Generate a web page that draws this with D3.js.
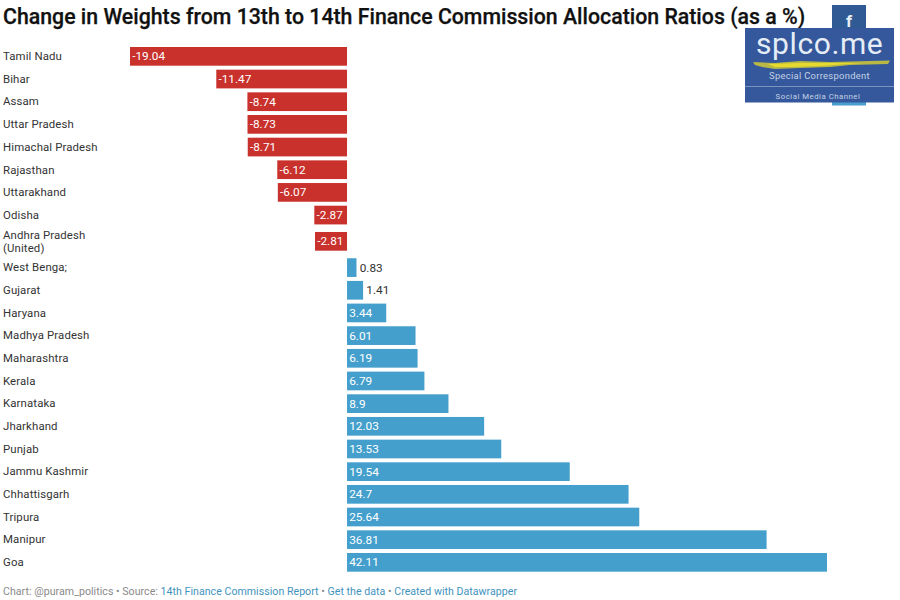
<!DOCTYPE html>
<html><head><meta charset="utf-8">
<script src="https://cdn.jsdelivr.net/npm/d3@7"></script>
<style>
html,body{margin:0;padding:0;background:#fff;overflow:hidden}
text{font-family:Roboto,sans-serif}
</style></head><body>
<svg id="c" width="900" height="600"></svg>
<script>
const categories=["Tamil Nadu","Bihar","Assam","Uttar Pradesh","Himachal Pradesh","Rajasthan","Uttarakhand","Odisha","Andhra Pradesh (United)","West Benga;","Gujarat","Haryana","Madhya Pradesh","Maharashtra","Kerala","Karnataka","Jharkhand","Punjab","Jammu Kashmir","Chhattisgarh","Tripura","Manipur","Goa"];
const values=[-19.04,-11.47,-8.74,-8.73,-8.71,-6.12,-6.07,-2.87,-2.81,0.83,1.41,3.44,6.01,6.19,6.79,8.9,12.03,13.53,19.54,24.7,25.64,36.81,42.11];
const labelLines={"Andhra Pradesh (United)":["Andhra Pradesh","(United)"]};
const svg=d3.select("#c");
const x=d3.scaleLinear().domain([-19.04,42.11]).range([130,827]);
// the wrapped two-line label makes its row taller than the others
const extra=7.2, tallRow=categories.findIndex(c=>labelLines[c]);
const band=d3.scaleBand().domain(categories).range([47,571.7-extra]).paddingInner(0.175).paddingOuter(0);
const y=c=>{const i=categories.indexOf(c);return band(c)+(i>tallRow?extra:i===tallRow?extra/2:0);};
const data=categories.map((c,i)=>({c,v:values[i]}));

svg.append("text").attr("x",3).attr("y",24).attr("font-size",21.3).attr("font-weight",500).attr("fill","#111")
  .attr("stroke","#111").attr("stroke-width",0.25)
  .text("Change in Weights from 13th to 14th Finance Commission Allocation Ratios (as a %)");

const rows=svg.selectAll("g.r").data(data).join("g").attr("class","r");
rows.append("rect").attr("x",d=>x(Math.min(0,d.v))).attr("y",d=>y(d.c))
  .attr("width",d=>Math.abs(x(d.v)-x(0))).attr("height",band.bandwidth())
  .attr("fill",d=>d.v<0?"#c8312c":"#459fcd");
rows.each(function(d){
  const g=d3.select(this), cy=y(d.c)+band.bandwidth()/2;
  const lines=labelLines[d.c]||[d.c];
  lines.forEach((t,i)=>g.append("text").attr("x",3).attr("y",cy+3.8+(i-(lines.length-1)/2)*13)
    .attr("font-size",11.4).attr("fill","#333").attr("letter-spacing",0.12).text(t));
  const w=Math.abs(x(d.v)-x(0));
  const inside=w>25;
  g.append("text").attr("x",inside?x(Math.min(0,d.v))+2.2:x(d.v)+3.2)
    .attr("y",cy+4).attr("font-size",11.8)
    .attr("fill",inside?"#fff":"#333").text(d.v);
});

const foot=svg.append("text").attr("x",3).attr("y",595).attr("font-size",10.6).attr("letter-spacing",0.03);
[["Chart: @puram_politics • Source: ","#8a8a8a"],["14th Finance Commission Report","#3f93bd"],[" • ","#8a8a8a"],["Get the data","#3f93bd"],[" • ","#8a8a8a"],["Created with Datawrapper","#3f93bd"]]
 .forEach(([t,f])=>foot.append("tspan").attr("fill",f).text(t));

// social badge overlay
const b=svg.append("g");
b.append("rect").attr("x",832).attr("y",5).attr("width",34).attr("height",24).attr("fill","#2f5a94");
b.append("text").attr("x",849).attr("y",27).attr("text-anchor","middle").attr("font-size",17).attr("font-weight",700).attr("fill","#e8eef5").text("f");
b.append("rect").attr("x",832).attr("y",100).attr("width",34).attr("height",5.5).attr("fill","#4a9fd0");
b.append("rect").attr("x",745).attr("y",28).attr("width",149).attr("height",74.5).attr("fill","#34589b");
b.append("text").attr("x",756).attr("y",54).attr("font-size",30).attr("letter-spacing",0.6).attr("fill","#e6edf6").text("splco.me");
b.append("path").attr("d","M753 62 L775 63 L800 61 L830 62 L890 60.5 L888 64 L850 65 L830 67 L800 68 L775 69 L762 67 L755 65 Z").attr("fill","#b9b844");
b.append("path").attr("d","M768 64 L800 63 L830 63 L862 63 L820 66 L790 67 L775 67 Z").attr("fill","#e6d92f");
b.append("text").attr("x",819.5).attr("y",79).attr("text-anchor","middle").attr("font-size",9.4).attr("letter-spacing",0.3).attr("fill","#c4d2e6").text("Special Correspondent");
b.append("rect").attr("x",745).attr("y",86).attr("width",149).attr("height",1).attr("fill","#7b94bd");
b.append("text").attr("x",818).attr("y",99).attr("text-anchor","middle").attr("font-size",7.8).attr("letter-spacing",0.5).attr("fill","#c4d2e6").text("Social Media Channel");
</script>
</body></html>
